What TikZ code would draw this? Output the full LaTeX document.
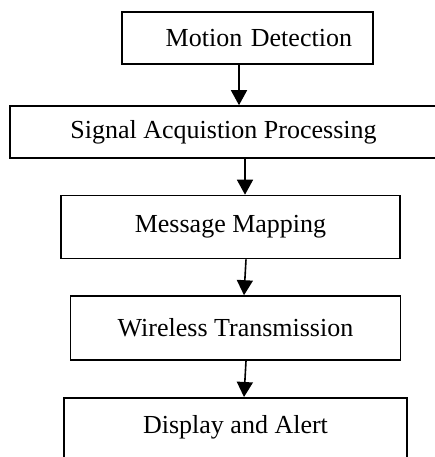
\documentclass[tikz,border=0pt]{standalone}
\usepackage{fontspec}
\setmainfont{Liberation Serif}
\usetikzlibrary{arrows.meta}

\begin{document}
\begin{tikzpicture}[
  x=1pt, y=-1pt,
  box/.style={draw, line width=1.6pt, inner sep=0pt, align=center, font=\fontsize{26}{30}\selectfont},
  arr/.style={-{Triangle[length=15pt,width=16pt]}, line width=1.6pt}
]
\useasboundingbox (0,0) rectangle (434,457);
\node[box, minimum height=52pt, text width=209pt, inner xsep=21pt, align=right] (m1) at (247.5,38) {Motion Detection};
\node[box, minimum width=427pt, minimum height=52pt] (m2) at (223.5,132) {Signal Acquistion Processing};
\node[box, minimum width=339pt, minimum height=63pt] (m3) at (230.5,227) {Message Mapping};
\node[box, minimum width=330pt, minimum height=64pt] (m4) at (235.5,328) {Wireless Transmission};
\node[box, anchor=north, minimum width=343pt, text height=36pt, text depth=30pt] (m5) at (235.5,397) {Display and Alert};

\draw[arr] ([xshift=-8.5pt]m1.south) -- ([xshift=15.5pt]m2.north);
\draw[arr] ([xshift=21.5pt]m2.south) -- ([xshift=14.5pt]m3.north);
\draw[arr] ([xshift=15.5pt]m3.south) -- ([xshift=8.5pt]m4.north);
\draw[arr] ([xshift=10.5pt]m4.south) -- ([xshift=8.5pt]m5.north);
\end{tikzpicture}
\end{document}
